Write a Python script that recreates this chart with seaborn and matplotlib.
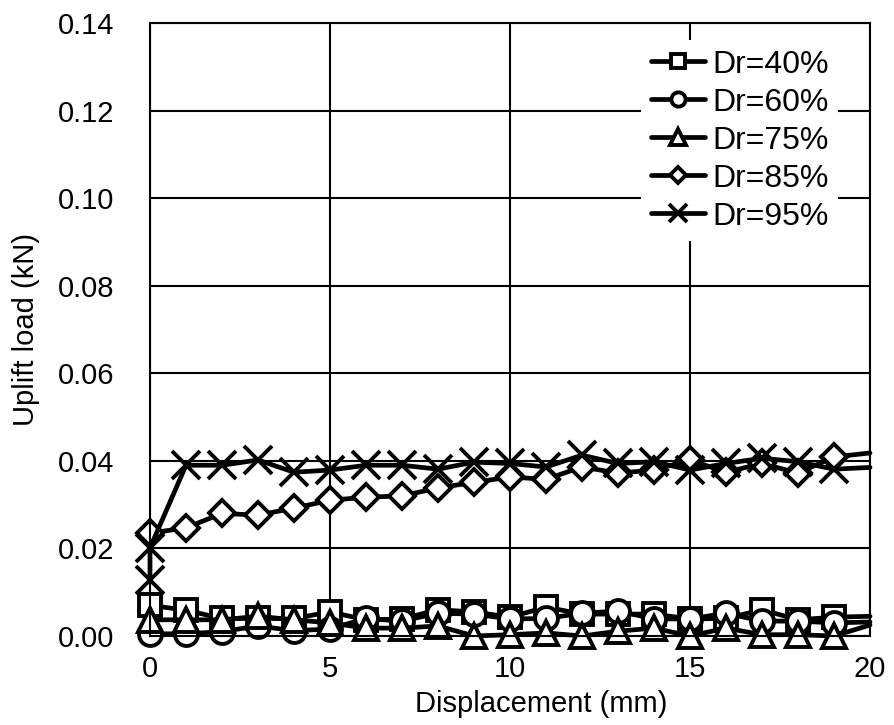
import matplotlib
matplotlib.use("Agg")
import matplotlib.pyplot as plt
import seaborn as sns

# ---- data ----
x_pts = list(range(0, 21))                      # 0..20 mm (markers 0..19, line to 20)
x_pts95 = [0] + list(range(0, 21))              # Dr=95% has two readings at 0 mm

dr40 = [0.0070, 0.0059, 0.0040, 0.0040, 0.0040, 0.0055, 0.0037, 0.0039, 0.0060, 0.0055,
        0.0043, 0.0066, 0.0050, 0.0050, 0.0050, 0.0039, 0.0040, 0.0060, 0.0037, 0.0043,
        0.0045]
dr60 = [0.0005, 0.0005, 0.0010, 0.0023, 0.0012, 0.0016, 0.0040, 0.0034, 0.0052, 0.0050,
        0.0039, 0.0040, 0.0052, 0.0057, 0.0039, 0.0039, 0.0052, 0.0034, 0.0034, 0.0030,
        0.0032]
dr75 = [0.0037, 0.0037, 0.0037, 0.0045, 0.0037, 0.0030, 0.0018, 0.0018, 0.0023, 0.0000,
        0.0003, 0.0007, 0.0000, 0.0011, 0.0018, 0.0000, 0.0018, 0.0003, 0.0003, 0.0000,
        0.0025]
dr85 = [0.0235, 0.0247, 0.0280, 0.0276, 0.0292, 0.0310, 0.0317, 0.0320, 0.0338, 0.0351,
        0.0363, 0.0358, 0.0386, 0.0372, 0.0379, 0.0402, 0.0374, 0.0394, 0.0372, 0.0409,
        0.0418]
dr95 = [0.0128, 0.0201, 0.0390, 0.0390, 0.0402, 0.0374, 0.0379, 0.0390, 0.0390, 0.0381,
        0.0397, 0.0394, 0.0386, 0.0413, 0.0394, 0.0398, 0.0379, 0.0394, 0.0406, 0.0398,
        0.0381, 0.0385]

labels = ["Dr=40%", "Dr=60%", "Dr=75%", "Dr=85%", "Dr=95%"]
x_ticks = [0, 5, 10, 15, 20]
y_ticks = [0.00, 0.02, 0.04, 0.06, 0.08, 0.10, 0.12, 0.14]

series = [(x_pts, dr40), (x_pts, dr60), (x_pts, dr75), (x_pts, dr85), (x_pts95, dr95)]
styles = [dict(marker="s", ms=16), dict(marker="o", ms=16.5), dict(marker="^", ms=17.5),
          dict(marker="D", ms=13.5), dict(marker="x", ms=20)]

sns.set_theme(style="white")
plt.rcParams["font.family"] = ["Liberation Sans", "DejaVu Sans"]

fig = plt.figure(figsize=(8.94, 7.25), dpi=100)
ax = fig.add_axes([150 / 894, 1 - 636 / 725, 720 / 894, 613 / 725])

for (xs, ys), lab, st in zip(series, labels, styles):
    n = len(xs)
    sns.lineplot(x=xs, y=ys, ax=ax, estimator=None, sort=False, color="black",
                 lw=3.4, mfc="white", mec="black", mew=2.8,
                 markevery=slice(0, n - 1), label=lab, clip_on=False, **st)

ax.set_xlim(0, 20)
ax.set_ylim(0, 0.14)
ax.set_xticks(x_ticks)
ax.set_yticks(y_ticks)
ax.set_yticklabels([f"{v:.2f}" for v in y_ticks])
ax.tick_params(axis="both", length=0, labelsize=21, colors="black")
ax.tick_params(axis="y", pad=26)
ax.tick_params(axis="x", pad=14)

ax.grid(True, color="black", lw=1.5)
ax.set_axisbelow(True)
for s in ax.spines.values():
    s.set_color("black")
    s.set_linewidth(1.5)
    s.set_visible(True)

ax.set_xlabel("Displacement (mm)", fontsize=21, color="black")
ax.set_ylabel("Uplift load (kN)", fontsize=21, color="black")
ax.xaxis.set_label_coords((541 - 150) / 720, (636 - 690) / 613)
ax.yaxis.set_label_coords((40 - 150) / 720, 0.5)

leg = ax.legend(loc="upper right", bbox_to_anchor=(838 / 894, 1 - 40 / 725),
                bbox_transform=fig.transFigure, borderaxespad=0, fontsize=23,
                frameon=True, fancybox=False, framealpha=1, facecolor="white",
                edgecolor="none", handlelength=1.7, handletextpad=0.22,
                labelspacing=0.25, borderpad=0.3, markerscale=0.62)
for t in leg.get_texts():
    t.set_color("black")

fig.savefig("out.png", dpi=100)
